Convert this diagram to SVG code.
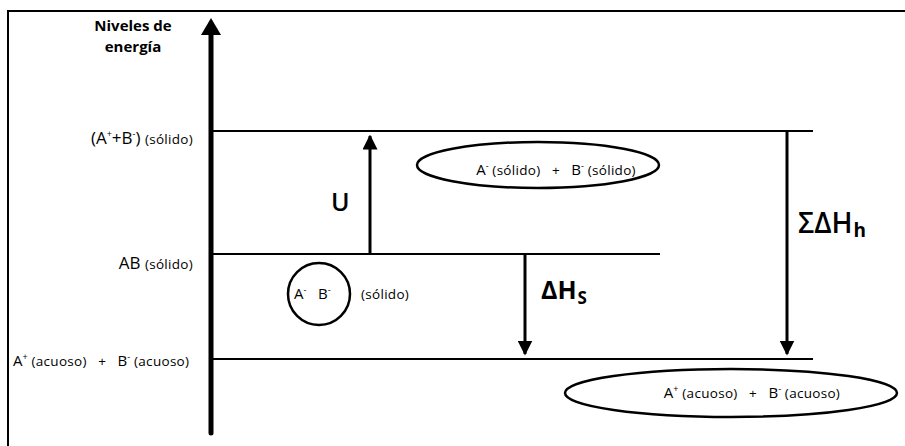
<svg xmlns="http://www.w3.org/2000/svg" width="905" height="446" viewBox="0 0 905 446">
<style>
  .t { font-family: "Open Sans", "Liberation Sans", sans-serif; fill: #000; white-space: pre; }
  .lv { fill: none; stroke: #000; stroke-width: 2; }
  .ar { fill: none; stroke: #000; stroke-width: 3; }
  .big { font-size: 17px; }
  .sm { font-size: 13.5px; letter-spacing: 0.3px; }
  .sup { font-size: 9px; }
</style>
<defs>
  <marker id="ah" viewBox="0 0 10 10" refX="9" refY="5" markerWidth="5" markerHeight="5" markerUnits="strokeWidth" orient="auto">
    <path d="M0,0 L10,5 L0,10 Z" fill="#000"/>
  </marker>
</defs>
<rect width="905" height="446" fill="#fff"/>
<g id="frame">
  <line x1="8" y1="11" x2="905" y2="11" stroke="#000" stroke-width="2"/>
  <line x1="8" y1="10" x2="8" y2="446" stroke="#000" stroke-width="2"/>
</g>
<g id="axis">
  <line x1="211" y1="30" x2="211" y2="433" stroke="#000" stroke-width="5" stroke-linecap="round"/>
  <path d="M211,18 L221,35 L201,35 Z" fill="#000"/>
  <text class="t" x="133" y="31" font-size="15" font-weight="bold" text-anchor="middle">Niveles de</text>
  <text class="t" x="133" y="52" font-size="15" font-weight="bold" text-anchor="middle">energía</text>
</g>
<g id="levels">
  <line class="lv" x1="213" y1="131" x2="813" y2="131"/>
  <line class="lv" x1="213" y1="254" x2="660" y2="254"/>
  <line class="lv" x1="213" y1="359" x2="813" y2="359"/>
</g>
<g id="label-top">
  <text class="t" x="193" y="144" text-anchor="end"><tspan class="big">(A</tspan><tspan class="sup" dy="-7">+</tspan><tspan class="big" dy="7">+B</tspan><tspan class="sup" dy="-7">-</tspan><tspan class="big" dy="7">) </tspan><tspan class="sm">(sólido)</tspan></text>
</g>
<g id="label-mid">
  <text class="t" x="193" y="269" text-anchor="end"><tspan class="big">AB </tspan><tspan class="sm">(sólido)</tspan></text>
</g>
<g id="label-bot">
  <text class="t" x="13" y="366"><tspan font-size="15">A</tspan><tspan class="sup" dy="-6">+</tspan><tspan class="sm" dy="6"> (acuoso)   +   </tspan><tspan font-size="15">B</tspan><tspan class="sup" dy="-6">-</tspan><tspan class="sm" dy="6"> (acuoso)</tspan></text>
</g>
<g id="connectors">
  <line class="ar" x1="370" y1="254" x2="370" y2="136" marker-end="url(#ah)"/>
  <line class="ar" x1="525" y1="255" x2="525" y2="354" marker-end="url(#ah)"/>
  <line class="ar" x1="787" y1="132" x2="787" y2="354" marker-end="url(#ah)"/>
</g>
<g id="label-U">
  <text class="t" x="331" y="211" font-size="25" font-weight="600">U</text>
</g>
<g id="label-dHs">
  <text class="t" x="541" y="299" font-size="25" font-weight="bold">ΔH<tspan font-size="17" dy="5" dx="1">S</tspan></text>
</g>
<g id="label-sdHh">
  <text class="t" x="798" y="233" font-size="28" font-weight="600">ΣΔH<tspan font-size="19" dy="4" dx="1" font-weight="bold">h</tspan></text>
</g>
<g id="node-solid-ions">
  <ellipse cx="538" cy="165" rx="121" ry="23" fill="none" stroke="#000" stroke-width="2.5"/>
  <text class="t" x="556" y="175" text-anchor="middle"><tspan font-size="15">A</tspan><tspan class="sup" dy="-6">-</tspan><tspan class="sm" dy="6"> (sólido)   +   </tspan><tspan font-size="15">B</tspan><tspan class="sup" dy="-6">-</tspan><tspan class="sm" dy="6"> (sólido)</tspan></text>
</g>
<g id="node-crystal">
  <circle cx="319" cy="294" r="31" fill="none" stroke="#000" stroke-width="2.5"/>
  <text class="t" x="294" y="299"><tspan font-size="15">A</tspan><tspan class="sup" dy="-6">-</tspan><tspan font-size="15" dy="6">   B</tspan><tspan class="sup" dy="-6">-</tspan></text>
  <text class="t sm" x="361" y="299">(sólido)</text>
</g>
<g id="node-aqueous">
  <ellipse cx="731" cy="393" rx="166" ry="24" fill="none" stroke="#000" stroke-width="2.5"/>
  <text class="t" x="752" y="398" text-anchor="middle"><tspan font-size="15">A</tspan><tspan class="sup" dy="-6">+</tspan><tspan class="sm" dy="6"> (acuoso)   +   </tspan><tspan font-size="15">B</tspan><tspan class="sup" dy="-6">-</tspan><tspan class="sm" dy="6"> (acuoso)</tspan></text>
</g>
</svg>
